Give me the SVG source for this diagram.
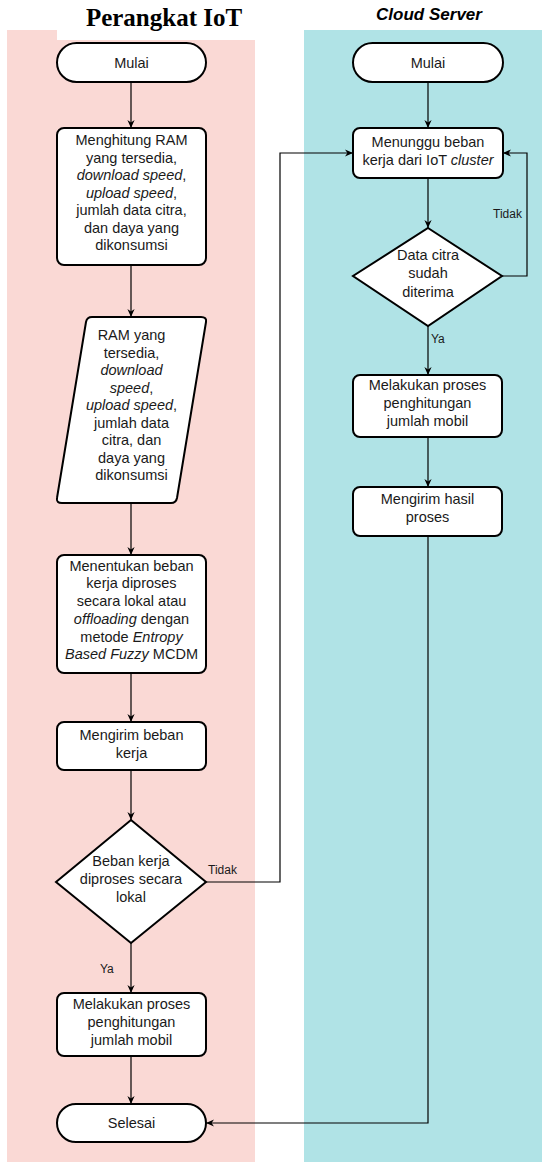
<svg xmlns="http://www.w3.org/2000/svg" width="542" height="1162" viewBox="0 0 542 1162">
<style>
.box{fill:#fff;stroke:#000;stroke-width:2}
.t{font-family:"Liberation Sans",Arial,sans-serif;font-size:14.5px;fill:#1a1a1a;text-anchor:middle}
.i{font-style:italic}
.lbl{font-family:"Liberation Sans",Arial,sans-serif;font-size:12px;fill:#1a1a1a}
.c{fill:none;stroke:#000;stroke-width:1.2}
</style>
<defs>
<marker id="ah" viewBox="0 0 10 10" refX="10" refY="5" markerWidth="8" markerHeight="8" markerUnits="userSpaceOnUse" orient="auto">
<path d="M0,0.5 L10,5 L0,9.5 L3,5 z" fill="#000"/>
</marker>
</defs>
<g id="lanes">
<rect x="7" y="30" width="248" height="1132" fill="#FAD9D5"/>
<rect x="57" y="29" width="199" height="11" fill="#fff"/>
<rect x="304" y="30" width="238" height="1132" fill="#B0E3E6"/>
<text x="164" y="26" font-family="'Liberation Serif','Times New Roman',serif" font-weight="bold" font-size="25" text-anchor="middle" fill="#000">Perangkat IoT</text>
<text x="429" y="20" font-family="'Liberation Sans',Arial,sans-serif" font-weight="bold" font-style="italic" font-size="17" text-anchor="middle" fill="#000">Cloud Server</text>
</g>
<g id="connectors">
<path class="c" d="M131,82 V128" marker-end="url(#ah)"/>
<path class="c" d="M131,265 V317" marker-end="url(#ah)"/>
<path class="c" d="M131,503 V555" marker-end="url(#ah)"/>
<path class="c" d="M131,673 V722" marker-end="url(#ah)"/>
<path class="c" d="M131,770 V820" marker-end="url(#ah)"/>
<path class="c" d="M131,943 V993" marker-end="url(#ah)"/>
<path class="c" d="M131,1056 V1104" marker-end="url(#ah)"/>
<path class="c" d="M206,882 H280 V153 H353" marker-end="url(#ah)"/>
<path class="c" d="M428,82 V128" marker-end="url(#ah)"/>
<path class="c" d="M428,178 V228" marker-end="url(#ah)"/>
<path class="c" d="M502,276 H527 V153 H503" marker-end="url(#ah)"/>
<path class="c" d="M428,326 V375" marker-end="url(#ah)"/>
<path class="c" d="M428,437 V487" marker-end="url(#ah)"/>
<path class="c" d="M428,536 V1123 H206" marker-end="url(#ah)"/>
<text class="lbl" x="208" y="874">Tidak</text>
<text class="lbl" x="100" y="973">Ya</text>
<text class="lbl" x="493" y="218">Tidak</text>
<text class="lbl" x="431" y="343">Ya</text>
</g>
<g id="mulai-iot">
<rect class="box" x="57" y="43" width="149" height="39" rx="19.5"/>
<text class="t" x="131.5" y="67.5">Mulai</text>
</g>
<g id="menghitung">
<rect class="box" x="57" y="128" width="149" height="137" rx="7"/>
<text class="t" x="131.5" y="145">Menghitung RAM</text>
<text class="t" x="131.5" y="162.5">yang tersedia,</text>
<text class="t" x="131.5" y="180"><tspan class="i">download speed</tspan>,</text>
<text class="t" x="131.5" y="197.5"><tspan class="i">upload speed</tspan>,</text>
<text class="t" x="131.5" y="215">jumlah data citra,</text>
<text class="t" x="131.5" y="232.5">dan daya yang</text>
<text class="t" x="131.5" y="250">dikonsumsi</text>
</g>
<g id="data-io">
<path class="box" d="M92,317 H201 Q207,317 206,322 L177,498 Q176,503 171,503 H62 Q56,503 57,498 L86,322 Q87,317 92,317 Z"/>
<text class="t" x="131.5" y="340">RAM yang</text>
<text class="t" x="131.5" y="357.5">tersedia,</text>
<text class="t i" x="131.5" y="375">download</text>
<text class="t" x="131.5" y="392.5"><tspan class="i">speed</tspan>,</text>
<text class="t" x="131.5" y="410"><tspan class="i">upload speed</tspan>,</text>
<text class="t" x="131.5" y="427.5">jumlah data</text>
<text class="t" x="131.5" y="445">citra, dan</text>
<text class="t" x="131.5" y="462.5">daya yang</text>
<text class="t" x="131.5" y="480">dikonsumsi</text>
</g>
<g id="menentukan">
<rect class="box" x="57" y="555" width="149" height="118" rx="7"/>
<text class="t" x="131.5" y="570.5">Menentukan beban</text>
<text class="t" x="131.5" y="588.3">kerja diproses</text>
<text class="t" x="131.5" y="606">secara lokal atau</text>
<text class="t" x="131.5" y="623.8"><tspan class="i">offloading</tspan> dengan</text>
<text class="t" x="131.5" y="641.5">metode <tspan class="i">Entropy</tspan></text>
<text class="t" x="131.5" y="659.3"><tspan class="i">Based Fuzzy</tspan> MCDM</text>
</g>
<g id="mengirim-beban">
<rect class="box" x="57" y="722" width="149" height="48" rx="7"/>
<text class="t" x="131.5" y="740">Mengirim beban</text>
<text class="t" x="131.5" y="757.5">kerja</text>
</g>
<g id="decision-lokal">
<path class="box" d="M131,820 L206,882 L131,943 L56,882 Z"/>
<text class="t" x="131" y="866">Beban kerja</text>
<text class="t" x="131" y="884">diproses secara</text>
<text class="t" x="131" y="902">lokal</text>
</g>
<g id="melakukan-iot">
<rect class="box" x="57" y="993" width="149" height="63" rx="7"/>
<text class="t" x="131.5" y="1009">Melakukan proses</text>
<text class="t" x="131.5" y="1027">penghitungan</text>
<text class="t" x="131.5" y="1045">jumlah mobil</text>
</g>
<g id="selesai">
<rect class="box" x="57" y="1104" width="149" height="38" rx="19"/>
<text class="t" x="131.5" y="1128">Selesai</text>
</g>
<g id="mulai-cloud">
<rect class="box" x="353" y="43" width="150" height="39" rx="19.5"/>
<text class="t" x="428" y="67.5">Mulai</text>
</g>
<g id="menunggu">
<rect class="box" x="353" y="128" width="150" height="50" rx="7"/>
<text class="t" x="428" y="147">Menunggu beban</text>
<text class="t" x="428" y="164.5">kerja dari IoT <tspan class="i">cluster</tspan></text>
</g>
<g id="decision-data">
<path class="box" d="M428,228 L502,276 L428,326 L353,276 Z"/>
<text class="t" x="428" y="260">Data citra</text>
<text class="t" x="428" y="278">sudah</text>
<text class="t" x="428" y="296.5">diterima</text>
</g>
<g id="melakukan-cloud">
<rect class="box" x="353" y="375" width="149" height="62" rx="7"/>
<text class="t" x="427.5" y="390">Melakukan proses</text>
<text class="t" x="427.5" y="408">penghitungan</text>
<text class="t" x="427.5" y="426">jumlah mobil</text>
</g>
<g id="mengirim-hasil">
<rect class="box" x="353" y="487" width="149" height="49" rx="7"/>
<text class="t" x="427.5" y="504">Mengirim hasil</text>
<text class="t" x="427.5" y="522">proses</text>
</g>
</svg>
